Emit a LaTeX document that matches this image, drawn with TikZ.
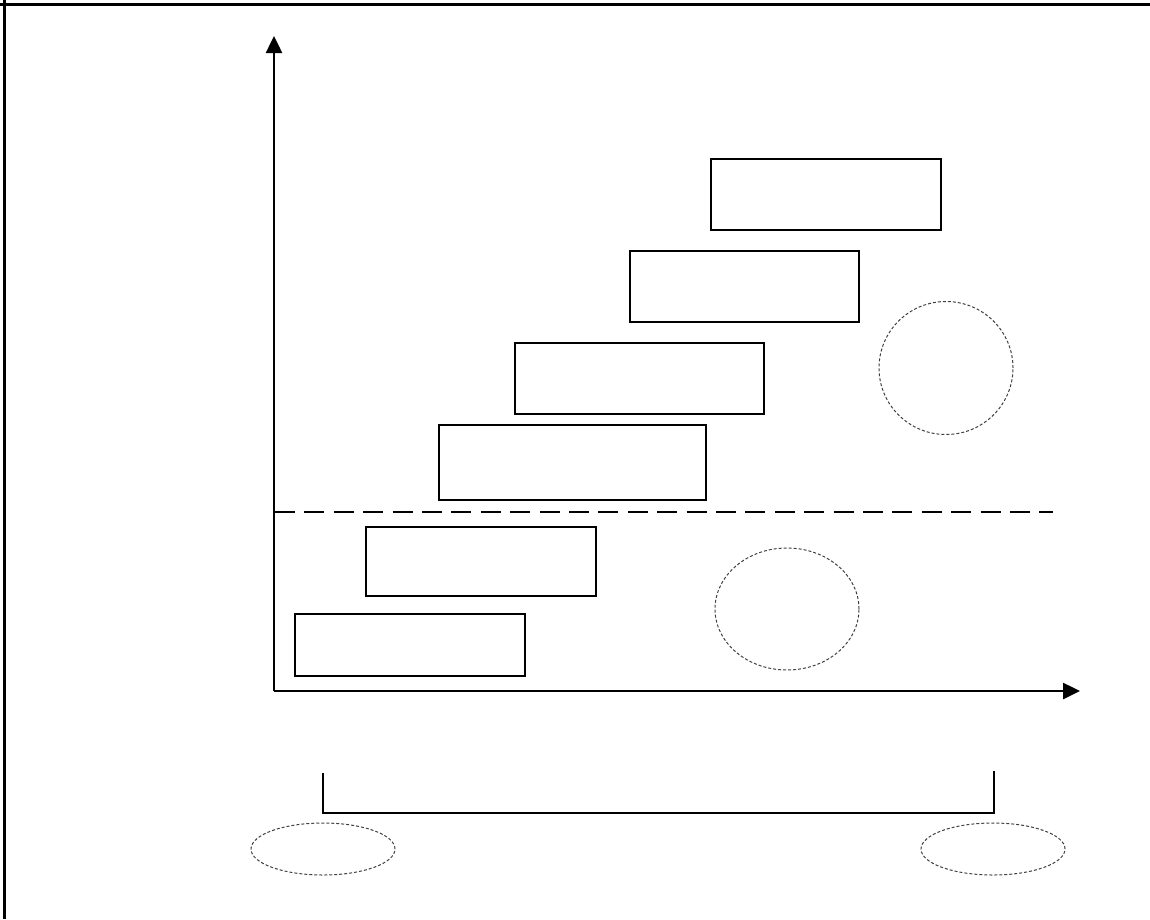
\documentclass[tikz,border=0pt]{standalone}
\usetikzlibrary{arrows.meta,shapes.geometric}
\begin{document}
\begin{tikzpicture}[x=1pt,y=-1pt,
  thickbox/.style={draw,line width=2.6pt,rectangle,inner sep=0pt},
  thinbox/.style={draw,line width=1.3pt,rectangle,inner sep=0pt},
  dashell/.style={draw=black!75,line width=1pt,ellipse,inner sep=0pt,dash pattern=on 3pt off 2pt},
  axis/.style={line width=2.5pt,-{Triangle[length=17pt,width=16pt]}},
  frame/.style={line width=3pt}]
\useasboundingbox (0,0) rectangle (1150,919);
% frame (top and left only)
\draw[frame] (0,4) -- (1150,4);
\draw[frame] (4,0) -- (4,919);
% axes
\coordinate (O) at (274,691);
\coordinate (Ytip) at (274,36);
\coordinate (Xtip) at (1080,691);
\draw[axis] (O) -- (Ytip);
\draw[axis] (O) -- (Xtip);
% dashed divider
\coordinate (D1) at (275,512);
\coordinate (D2) at (1053,512);
\draw[line width=2.5pt,dash pattern=on 20pt off 9.4pt] (D1) -- (D2);
% boxes
\node[thickbox,minimum width=230pt,minimum height=62pt] (a) at (410,645) {};
\node[thickbox,minimum width=230pt,minimum height=69pt] (b) at (481,561.5) {};
\node[thinbox,minimum width=267pt,minimum height=75pt] (c) at (572.5,462.5) {};
\node[thinbox,minimum width=249pt,minimum height=71pt] (d) at (639.5,378.5) {};
\node[thinbox,minimum width=229pt,minimum height=71pt] (e) at (744.5,286.5) {};
\node[thinbox,minimum width=230pt,minimum height=71pt] (f) at (826,194.5) {};
% dashed circles / ellipses
\node[dashell,minimum width=134pt,minimum height=133pt] (g) at (946,368) {};
\node[dashell,minimum width=144pt,minimum height=122pt] (h) at (787,609) {};
\node[dashell,minimum width=144pt,minimum height=52pt] (l) at (323,849) {};
\node[dashell,minimum width=144pt,minimum height=52pt] (r) at (993,849) {};
% bracket
\coordinate (B1) at (323,773);
\coordinate (B2) at (323,813);
\coordinate (B3) at (994,813);
\coordinate (B4) at (994,771);
\draw[line width=2.6pt] (B1) -- (B2) -- (B3) -- (B4);
\end{tikzpicture}
\end{document}
